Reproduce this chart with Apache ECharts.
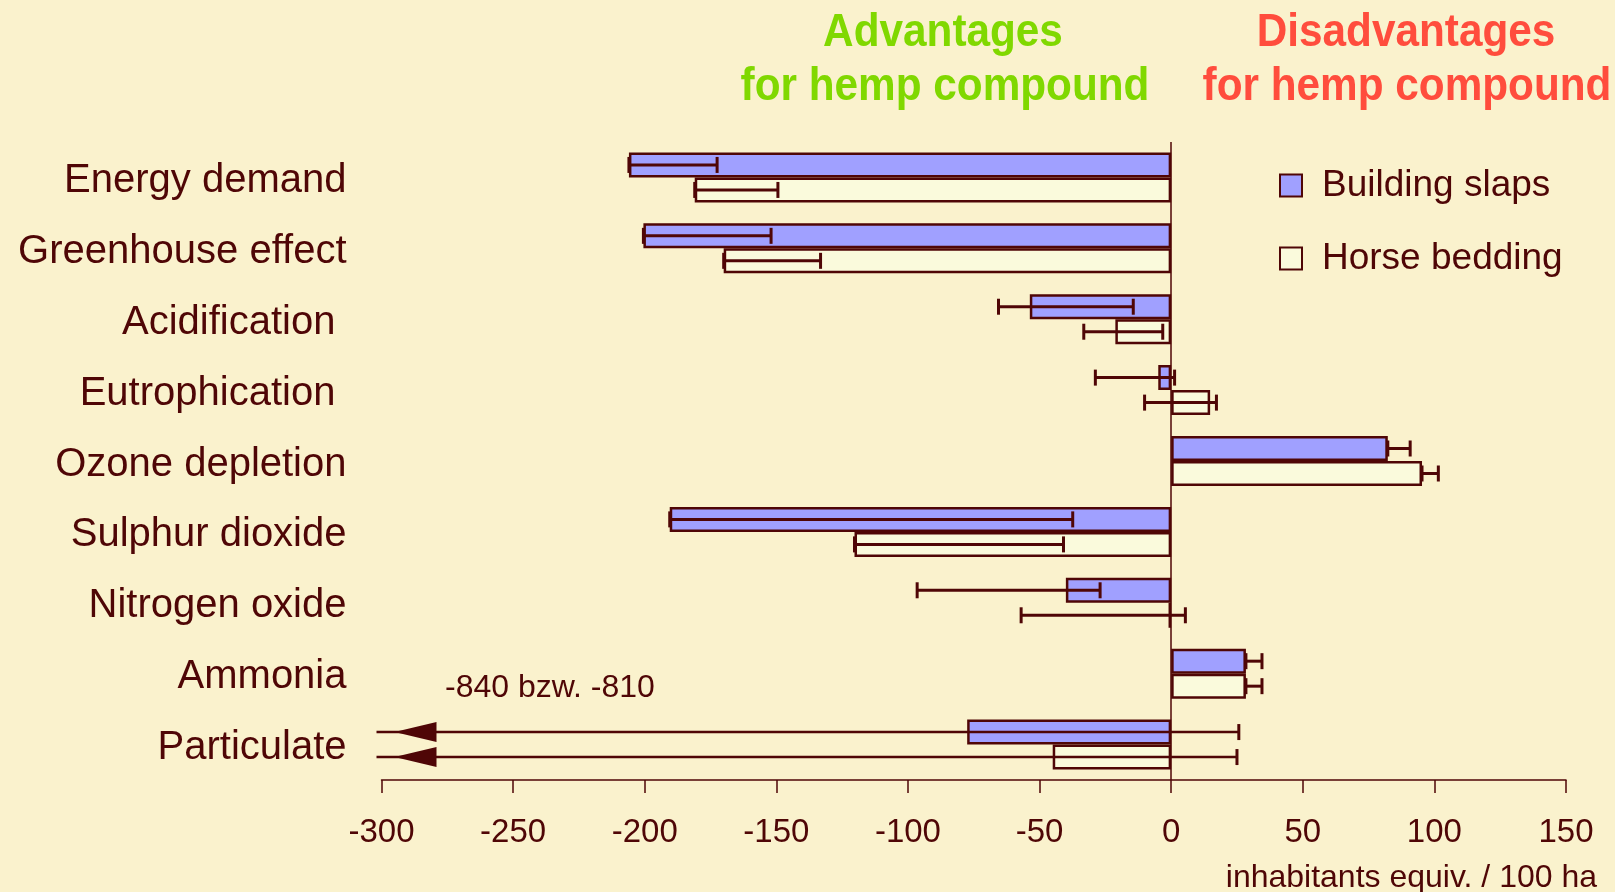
<!DOCTYPE html>
<html>
<head>
<meta charset="utf-8">
<script src="https://cdn.jsdelivr.net/npm/echarts@6/dist/echarts.min.js"></script>
<style>
html,body{margin:0;padding:0;background:#FAF2CD;}
#chart{width:1615px;height:892px;}
</style>
</head>
<body>
<div id="chart"></div>
<script>
const categories = ['Energy demand','Greenhouse effect','Acidification ','Eutrophication ','Ozone depletion','Sulphur dioxide','Nitrogen oxide','Ammonia','Particulate'];
const slapsValues = [-206, -200.5, -53.7, -4.9, 82.3, -190.5, -40, 28.4, -77.5];
const slapsErrLow = [-206, -200.5, -65.6, -28.8, 82.3, -190.5, -96.5, 28.4, -840];
const slapsErrHigh = [-172.5, -152, -14.4, 1.3, 90.8, -37.4, -27, 34.5, 25.7];
const beddingValues = [-181, -170, -21.2, 14.8, 95.3, -120.3, -1, 28.4, -45];
const beddingErrLow = [-181, -170, -33.2, -10.1, 95.3, -120.3, -57, 28.4, -810];
const beddingErrHigh = [-149.4, -133.2, -3.2, 17.2, 101.5, -40.9, 5.4, 34.5, 25];
const xTicks = [-300, -250, -200, -150, -100, -50, 0, 50, 100, 150];

const DARK = '#4f0606';
const BAR_W = 25;
const X_MIN = xTicks[0], X_MAX = xTicks[xTicks.length-1];

function errData(lo, hi){ return lo.map((l,i)=>[l, hi[i], i]); }

function makeErrRender(offset){
  return function(params, api){
    const lo = api.value(0), hi = api.value(1), ci = api.value(2);
    const loC = Math.max(lo, X_MIN);
    const pHi = api.coord([hi, ci]);
    const pLo = api.coord([loC, ci]);
    const y = pHi[1] + offset;
    const cap = 8;
    const style = {stroke: DARK, lineWidth: 3};
    const children = [];
    if (lo < X_MIN){
      const xl = pLo[0] - 5;
      const tip = pLo[0] + 13;
      children.push({type:'line', shape:{x1:xl, y1:y, x2:pHi[0], y2:y}, style:{stroke:DARK, lineWidth:2.5}});
      children.push({type:'polygon', shape:{points:[[tip,y],[tip+42,y-10],[tip+42,y+10]]}, style:{fill:DARK}});
    } else {
      children.push({type:'line', shape:{x1:pLo[0], y1:y, x2:pHi[0], y2:y}, style});
      children.push({type:'line', shape:{x1:pLo[0], y1:y-cap, x2:pLo[0], y2:y+cap}, style});
    }
    children.push({type:'line', shape:{x1:pHi[0], y1:y-cap, x2:pHi[0], y2:y+cap}, style});
    return {type:'group', children};
  };
}

function titleText(txt, x, y, color){
  return {type:'text', x:x, y:y, scaleX:0.9, z:10,
    style:{text:txt, fill:color, fontSize:47, fontWeight:'bold', fontFamily:'Liberation Sans',
      align:'center', verticalAlign:'middle', textAlign:'center', textVerticalAlign:'middle'}};
}

const chart = echarts.init(document.getElementById('chart'));
chart.setOption({
  backgroundColor: '#FAF2CD',
  animation: false,
  legend: {
    data:['Building slaps','Horse bedding'],
    orient:'vertical', left:1274, top:159,
    icon:'rect', itemWidth:22, itemHeight:22, itemGap:30,
    itemStyle:{borderColor:DARK, borderWidth:2},
    textStyle:{color:DARK, fontSize:37, fontFamily:'Liberation Sans', lineHeight:43, padding:[0,0,0,15]}
  },
  grid: {left:381.5, right:49, top:142, bottom:112},
  xAxis: {
    type:'value', min:X_MIN, max:X_MAX, interval:50,
    axisLine:{show:true, lineStyle:{color:DARK, width:1.5}},
    axisTick:{show:true, length:13, lineStyle:{color:DARK, width:1.5}},
    axisLabel:{color:DARK, fontSize:33, fontFamily:'Liberation Sans', margin:36},
    splitLine:{show:false}
  },
  yAxis: {
    type:'category', data:categories, inverse:true,
    axisLine:{show:false}, axisTick:{show:false},
    axisLabel:{color:DARK, fontSize:40, fontFamily:'Liberation Sans', margin:35,
      formatter: function(v){ return '{c|' + v + '}'; },
      rich:{c:{color:DARK, fontSize:40, fontFamily:'Liberation Sans', padding:[7,0,0,0]}}}
  },
  series: [
    {name:'Building slaps', type:'bar', data:slapsValues, barWidth:BAR_W, barGap:'0%',
     itemStyle:{color:'#A0A0FF', borderColor:DARK, borderWidth:2.5},
     markLine:{silent:true, symbol:'none', label:{show:false},
       lineStyle:{color:DARK, width:1.5, type:'solid'}, data:[{xAxis:0}]}},
    {name:'Horse bedding', type:'bar', data:beddingValues, barWidth:BAR_W, barGap:'0%',
     itemStyle:{color:'#FAFADC', borderColor:DARK, borderWidth:2.5}},
    {name:'errSlaps', type:'custom', clip:false, data:errData(slapsErrLow, slapsErrHigh),
     encode:{x:[0,1], y:2}, renderItem:makeErrRender(-BAR_W/2), z:5},
    {name:'errBedding', type:'custom', clip:false, data:errData(beddingErrLow, beddingErrHigh),
     encode:{x:[0,1], y:2}, renderItem:makeErrRender(BAR_W/2), z:5}
  ],
  graphic: [
    titleText('Advantages', 943, 33, '#80D800'),
    titleText('for hemp compound', 945, 87, '#80D800'),
    titleText('Disadvantages', 1406, 33, '#FF4D3D'),
    titleText('for hemp compound', 1407, 87, '#FF4D3D'),
    {type:'text', left:445, top:672, style:{text:'-840 bzw. -810', fill:DARK, fontSize:32, fontFamily:'Liberation Sans'}},
    {type:'text', right:18, top:862, style:{text:'inhabitants equiv. / 100 ha', fill:DARK, fontSize:32, fontFamily:'Liberation Sans'}}
  ]
});
</script>
</body>
</html>
